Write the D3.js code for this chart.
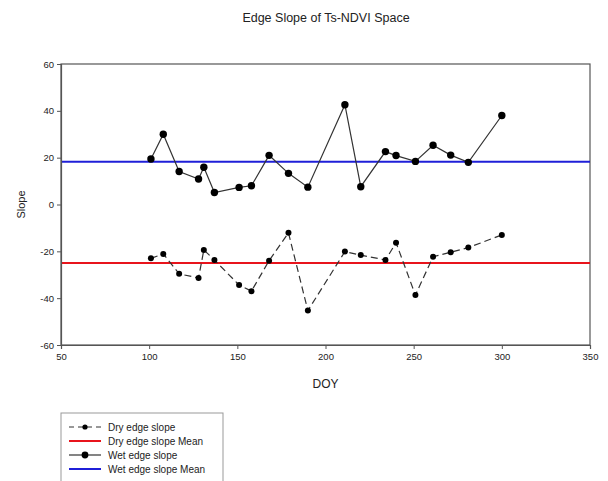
<!DOCTYPE html>
<html>
<head>
<meta charset="utf-8">
<script src="https://cdn.jsdelivr.net/npm/d3@7"></script>
<style>
  body { margin: 0; background: #fff; }
  text { font-family: "Liberation Sans", Arial, sans-serif; fill: #222; }
</style>
</head>
<body>
<script>
// data
var doy = [101, 108, 117, 128, 131, 137, 151, 158, 168, 179, 190, 211, 220, 234, 240, 251, 261, 271, 281, 300];
var wetSlope = [19.4, 30, 14.1, 10.9, 15.9, 5.1, 7.3, 8.0, 21, 13.3, 7.4, 42.6, 7.6, 22.6, 20.9, 18.4, 25.3, 21.1, 18, 38];
var drySlope = [-23, -21.1, -29.6, -31.4, -19.4, -23.7, -34.4, -37, -24, -12.1, -45.3, -20.1, -21.6, -23.7, -16.3, -38.7, -22.3, -20.4, -18.4, -13];
var wetMean = 18.3;
var dryMean = -25;
var xTicks = [50, 100, 150, 200, 250, 300, 350];
var yTicks = [-60, -40, -20, 0, 20, 40, 60];
var legendLabels = ["Dry edge slope", "Dry edge slope Mean", "Wet edge slope", "Wet edge slope Mean"];

var W = 608, H = 481;
var margin = {top: 64, right: 18, bottom: 136, left: 61},
    width = W - margin.left - margin.right,
    height = H - margin.top - margin.bottom;

var svg = d3.select("body").append("svg")
  .attr("width", W)
  .attr("height", H);

var g = svg.append("g")
  .attr("transform", "translate(" + margin.left + "," + margin.top + ")");

var x = d3.scaleLinear().domain([50, 350]).range([0, width]);
var y = d3.scaleLinear().domain([-60, 60]).range([height, 0]);

// frame
g.append("rect")
  .attr("width", width)
  .attr("height", height)
  .attr("fill", "none")
  .attr("stroke", "#555")
  .attr("stroke-width", 1.2);

// mean lines
g.append("line")
  .attr("x1", 0).attr("x2", width)
  .attr("y1", y(dryMean)).attr("y2", y(dryMean))
  .attr("stroke", "#e8141c").attr("stroke-width", 2);
g.append("line")
  .attr("x1", 0).attr("x2", width)
  .attr("y1", y(wetMean)).attr("y2", y(wetMean))
  .attr("stroke", "#1f1fd8").attr("stroke-width", 2);

var wet = doy.map(function(d, i) { return {doy: d, v: wetSlope[i]}; });
var dry = doy.map(function(d, i) { return {doy: d, v: drySlope[i]}; });

var line = d3.line()
  .x(function(d) { return x(d.doy); })
  .y(function(d) { return y(d.v); });

g.append("path").datum(dry)
  .attr("d", line)
  .attr("fill", "none")
  .attr("stroke", "#333")
  .attr("stroke-width", 1.2)
  .attr("stroke-dasharray", "7,4");

g.selectAll(".dry").data(dry)
  .enter().append("circle")
  .attr("cx", function(d) { return x(d.doy); })
  .attr("cy", function(d) { return y(d.v); })
  .attr("r", 3)
  .attr("fill", "#000");

g.append("path").datum(wet)
  .attr("d", line)
  .attr("fill", "none")
  .attr("stroke", "#333")
  .attr("stroke-width", 1.2);

g.selectAll(".wet").data(wet)
  .enter().append("circle")
  .attr("cx", function(d) { return x(d.doy); })
  .attr("cy", function(d) { return y(d.v); })
  .attr("r", 3.7)
  .attr("fill", "#000");

// axes (plain hyphen for negatives, like the original)
var fmt = function(d) { return String(d); };
var xAxis = g.append("g")
  .attr("transform", "translate(0," + height + ")")
  .call(d3.axisBottom(x).tickValues(xTicks).tickFormat(fmt).tickSize(4).tickPadding(4));
var yAxis = g.append("g")
  .call(d3.axisLeft(y).tickValues(yTicks).tickFormat(fmt).tickSize(4).tickPadding(3));

[xAxis, yAxis].forEach(function(a) {
  a.select(".domain").attr("stroke", "#555").attr("stroke-width", 1.2);
  a.selectAll(".tick line").attr("stroke", "#555");
  a.selectAll("text")
    .style("font-family", "Liberation Sans, Arial, sans-serif")
    .style("font-size", "9.5px")
    .attr("fill", "#333");
});

// titles
svg.append("text")
  .attr("x", 326).attr("y", 22)
  .attr("text-anchor", "middle")
  .style("font-size", "12.5px")
  .text("Edge Slope of Ts-NDVI Space");

svg.append("text")
  .attr("x", margin.left + width / 2).attr("y", 388)
  .attr("text-anchor", "middle")
  .style("font-size", "12px")
  .text("DOY");

svg.append("text")
  .attr("transform", "translate(25," + (margin.top + height / 2) + ")rotate(-90)")
  .attr("text-anchor", "middle")
  .style("font-size", "11px")
  .text("Slope");

// legend
var lg = svg.append("g").attr("transform", "translate(61,413)");
lg.append("rect")
  .attr("width", 162).attr("height", 72)
  .attr("fill", "#fff")
  .attr("stroke", "#999");

var rowY = [14, 28, 42, 56];
legendLabels.forEach(function(lab, i) {
  var ry = rowY[i];
  var ln = lg.append("line")
    .attr("x1", 8).attr("x2", 40)
    .attr("y1", ry).attr("y2", ry)
    .attr("stroke-width", i % 2 ? 2 : 1.2);
  if (i === 0) ln.attr("stroke", "#333").attr("stroke-dasharray", "5,4");
  if (i === 1) ln.attr("stroke", "#e8141c");
  if (i === 2) ln.attr("stroke", "#333");
  if (i === 3) ln.attr("stroke", "#1f1fd8");
  if (i === 0 || i === 2) {
    lg.append("circle").attr("cx", 24).attr("cy", ry)
      .attr("r", i === 0 ? 2.6 : 3.4).attr("fill", "#000");
  }
  lg.append("text")
    .attr("x", 47).attr("y", ry + 3.5)
    .style("font-size", "10px")
    .text(lab);
});
</script>
</body>
</html>
